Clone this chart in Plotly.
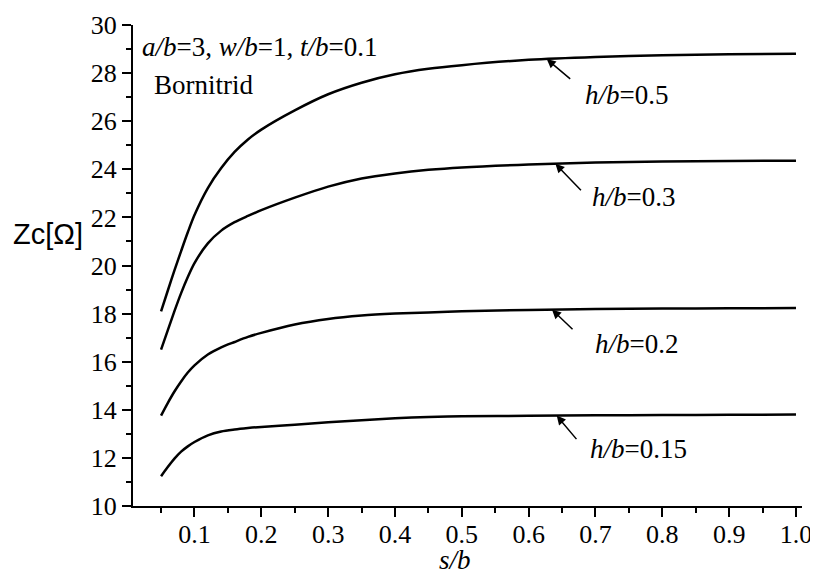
import numpy as np
import plotly.graph_objects as go

s_b = [0.05, 0.06, 0.07, 0.08, 0.09, 0.10, 0.12, 0.14, 0.16, 0.18, 0.20,
       0.25, 0.30, 0.35, 0.40, 0.45, 0.50, 0.60, 0.70, 0.80, 0.90, 1.00]

zc_h050 = [18.09, 18.95, 19.8, 20.6, 21.38, 22.1, 23.22, 24.05, 24.72, 25.24, 25.65,
           26.45, 27.12, 27.6, 27.95, 28.18, 28.33, 28.55, 28.67, 28.74, 28.78, 28.8]
zc_h030 = [16.5, 17.3, 18.1, 18.85, 19.52, 20.1, 20.92, 21.45, 21.8, 22.06, 22.3,
           22.82, 23.28, 23.62, 23.83, 23.98, 24.08, 24.2, 24.28, 24.32, 24.35, 24.36]
zc_h020 = [13.76, 14.28, 14.76, 15.18, 15.55, 15.85, 16.3, 16.6, 16.82, 17.03, 17.2,
           17.55, 17.78, 17.92, 18.0, 18.05, 18.1, 18.15, 18.19, 18.21, 18.22, 18.23]
zc_h015 = [11.24, 11.62, 11.97, 12.26, 12.48, 12.66, 12.94, 13.1, 13.18, 13.24, 13.29,
           13.38, 13.48, 13.57, 13.65, 13.7, 13.73, 13.75, 13.77, 13.78, 13.79, 13.8]

series_names = ["0.5", "0.3", "0.2", "0.15"]
series_values = [zc_h050, zc_h030, zc_h020, zc_h015]

# arrow tip x positions and label positions (data coords)
arrow_tip_x = [0.627, 0.64, 0.635, 0.642]
label_x = [0.681, 0.692, 0.696, 0.689]
label_y = [27.09, 22.85, 16.75, 12.35]
arrow_tail = [(25, 21), (27, 28), (22, 21), (21, 25)]

x_ticks = [0.1, 0.2, 0.3, 0.4, 0.5, 0.6, 0.7, 0.8, 0.9, 1.0]
x_ticktext = ["0.1", "0.2", "0.3", "0.4", "0.5", "0.6", "0.7", "0.8", "0.9", "1.0"]
y_ticks = [10, 12, 14, 16, 18, 20, 22, 24, 26, 28, 30]

SERIF = "Liberation Serif"
SANS = "Liberation Sans"

fig = go.Figure()
for name, vals in zip(series_names, series_values):
    fig.add_trace(go.Scatter(x=s_b, y=vals, mode="lines", name=name,
                             line=dict(color="black", width=2.5, shape="spline", smoothing=0.8),
                             showlegend=False, hoverinfo="skip"))

annotations = []
for name, vals, tx, lx, ly, (ax, ay) in zip(series_names, series_values, arrow_tip_x,
                                            label_x, label_y, arrow_tail):
    ty = float(np.interp(tx, s_b, vals))
    annotations.append(dict(x=tx, y=ty, ax=ax, ay=ay, text="", showarrow=True,
                            arrowhead=2, arrowsize=1.2, arrowwidth=1.5, arrowcolor="black",
                            standoff=0, startstandoff=0))
    annotations.append(dict(x=lx, y=ly, xanchor="left", yanchor="middle", showarrow=False,
                            text="<i>h/b</i>=" + name,
                            font=dict(family=SERIF, size=27, color="black")))

annotations.append(dict(xref="paper", yref="paper", x=0.01, y=0.955, xanchor="left",
                        yanchor="middle", showarrow=False,
                        text="<i>a/b</i>=3, <i>w/b</i>=1, <i>t/b</i>=0.1",
                        font=dict(family=SERIF, size=27, color="black")))
annotations.append(dict(xref="paper", yref="paper", x=0.028, y=0.875, xanchor="left",
                        yanchor="middle", showarrow=False, text="Bornitrid",
                        font=dict(family=SERIF, size=27, color="black")))
annotations.append(dict(xref="paper", yref="paper", x=-0.127, y=0.565, xanchor="center",
                        yanchor="middle", showarrow=False, text="Zc[Ω]",
                        font=dict(family=SANS, size=29, color="black")))
annotations.append(dict(xref="paper", yref="paper", x=0.481, y=-0.113, xanchor="center",
                        yanchor="middle", showarrow=False, text="<i>s/b</i>",
                        font=dict(family=SERIF, size=27, color="black")))

# page body has an 8px margin: the figure is sized so that its plot area
# lands where the reference's does in the 818x576 window
fig.update_layout(
    width=810, height=568,
    margin=dict(l=125, r=16, t=17, b=70, autoexpand=False),
    paper_bgcolor="white", plot_bgcolor="white",
    annotations=annotations,
    font=dict(family=SERIF, size=27, color="black"),
    xaxis=dict(range=[0.008, 1.009], tickvals=x_ticks, ticktext=x_ticktext,
               automargin=False, ticklabelstandoff=-5,
               showgrid=False, zeroline=False, showline=True, linecolor="black",
               linewidth=2, ticks="outside", ticklen=9, tickwidth=2, tickcolor="black",
               minor=dict(dtick=0.05, tick0=0, ticks="outside", ticklen=5, tickwidth=2,
                          tickcolor="black", showgrid=False),
               tickfont=dict(family=SERIF, size=26, color="black")),
    yaxis=dict(range=[10, 30], tickvals=y_ticks, showgrid=False, zeroline=False,
               automargin=False,
               showline=True, linecolor="black", linewidth=2, ticks="outside",
               ticklen=9, tickwidth=2, tickcolor="black",
               minor=dict(dtick=1, tick0=0, ticks="outside", ticklen=5, tickwidth=2,
                          tickcolor="black", showgrid=False),
               tickfont=dict(family=SERIF, size=26, color="black")),
)

fig.write_html("out.html")
